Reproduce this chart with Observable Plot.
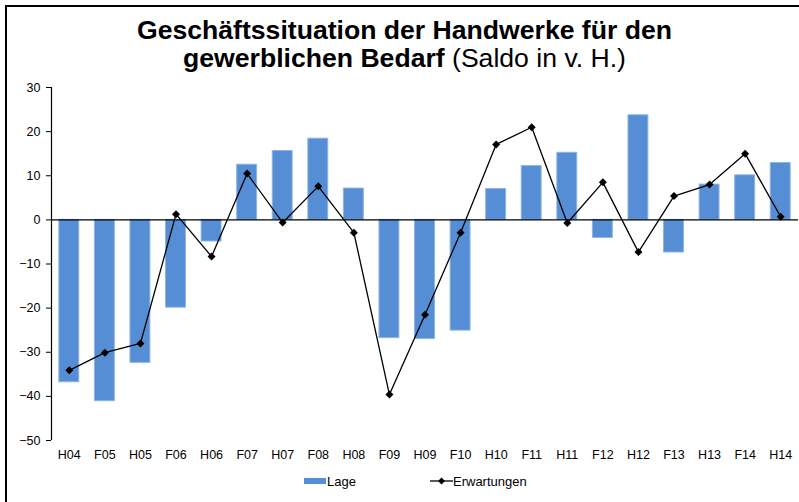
<!DOCTYPE html>
<html>
<head>
<meta charset="utf-8">
<script src="https://cdn.jsdelivr.net/npm/d3@7"></script>
<script src="https://cdn.jsdelivr.net/npm/@observablehq/plot@0.6"></script>
<style>
  html, body { margin: 0; padding: 0; background: #fff; overflow: hidden; }
  body { width: 799px; height: 502px; position: relative; font-family: "Liberation Sans", Arial, sans-serif; }
  #frame { position: absolute; left: 5px; top: 5px; width: 900px; height: 600px; border: 2px solid #000; box-sizing: border-box; }
  #title { position: absolute; left: 5px; top: 16px; width: 799px; text-align: center; font-size: 26.6px; line-height: 28px; color: #000; }
  #title b { font-weight: bold; }
  #chart { position: absolute; left: 0; top: 80px; }
  #legend { position: absolute; top: 472px; left: 0; width: 799px; height: 18px; font-size: 13px; color: #000; }
  .item { position: absolute; top: 0; display: flex; align-items: center; height: 18px; }
</style>
</head>
<body>
<div id="frame"></div>
<div id="title"><b>Geschäftssituation der Handwerke für den</b><br><b>gewerblichen Bedarf</b> (Saldo in v. H.)</div>
<div id="chart"></div>
<div id="legend">
  <div class="item" style="left:304px"><svg width="22" height="8"><rect x="0" y="1" width="22" height="6" fill="#558ED5"></rect></svg><span style="margin-left:1px">Lage</span></div>
  <div class="item" style="left:430px"><svg width="23" height="10"><line x1="0" y1="5" x2="23" y2="5" stroke="#000" stroke-width="1.3"></line><path d="M11.5,1.5L15,5L11.5,8.5L8,5Z" fill="#000"></path></svg><span>Erwartungen</span></div>
</div>
<script>
const categories = ["H04","F05","H05","F06","H06","F07","H07","F08","H08","F09","H09","F10","H10","F11","H11","F12","H12","F13","H13","F14","H14"];
const lage = [-36.8,-41.1,-32.4,-19.9,-4.9,12.5,15.6,18.4,7.1,-26.8,-27.0,-25.1,7.0,12.2,15.2,-4.1,23.7,-7.4,8.0,10.1,12.9];
const erwartungen = [-34.1,-30.1,-28.0,1.3,-8.3,10.5,-0.6,7.6,-2.9,-39.6,-21.5,-2.9,17.1,21.0,-0.7,8.5,-7.3,5.4,8.0,15.0,0.7];
const yTicks = [30,20,10,0,-10,-20,-30,-40,-50];

const rows = categories.map((c, i) => ({cat: c, lage: lage[i], erw: erwartungen[i]}));

const chart = Plot.plot({
  width: 799,
  height: 385,
  marginLeft: 51,
  marginRight: 1,
  marginTop: 7,
  marginBottom: 25,
  style: {fontFamily: "'Liberation Sans', Arial, sans-serif", fontSize: "12.5px", color: "#000", background: "transparent"},
  x: {domain: categories, paddingInner: 0.44, paddingOuter: 0.22, round: false, label: null},
  y: {domain: [-50, 30], label: null},
  marks: [
    Plot.barY(rows, {x: "cat", y: "lage", fill: "#558ED5", stroke: "#8FB4E6", strokeWidth: 1}),
    Plot.ruleY([0], {stroke: "#000", strokeWidth: 1.3}),
    Plot.line(rows, {x: "cat", y: "erw", stroke: "#000", strokeWidth: 1.3}),
    Plot.dot(rows, {x: "cat", y: "erw", symbol: "diamond2", r: 3.6, fill: "#000", stroke: "none"}),
    Plot.axisY({ticks: yTicks, tickSize: 5, tickPadding: 6, label: null, stroke: "#000"}),
    Plot.axisX({tickSize: 0, tickPadding: 10, label: null})
  ]
});

// y axis line through the library's y scale
const ys = chart.scale("y");
const svg = d3.select(chart);
svg.append("line")
  .attr("x1", 51.5).attr("x2", 51.5)
  .attr("y1", ys.apply(30)).attr("y2", ys.apply(-50))
  .attr("stroke", "#000").attr("stroke-width", 1.2);

document.getElementById("chart").appendChild(chart);
</script>
</body>
</html>
